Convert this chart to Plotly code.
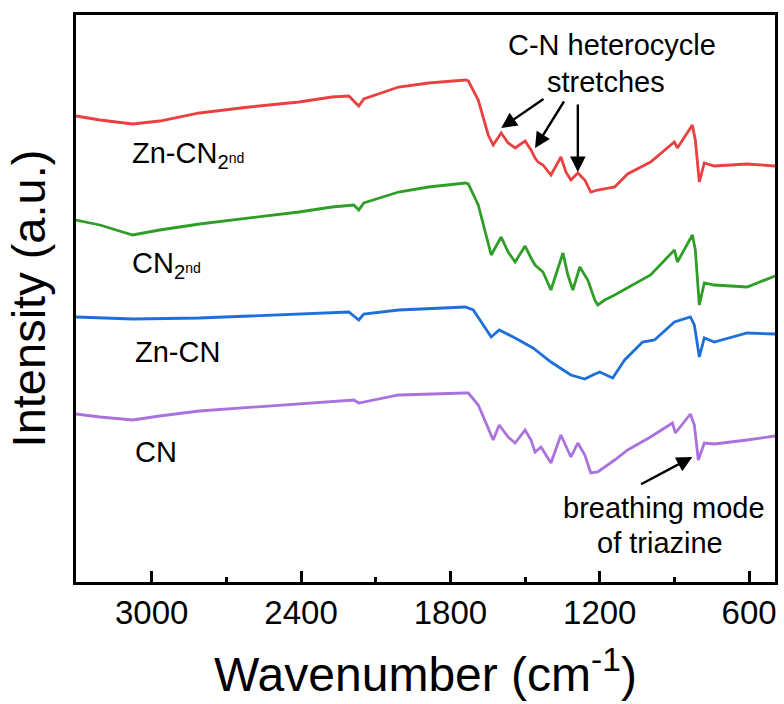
import plotly.graph_objects as go

# Wavenumbers (cm-1) and intensities (arbitrary units, offset stacked)
zn_cn2_x = [3304, 3208, 3076, 2968, 2808, 2608, 2408, 2276, 2208, 2180, 2168, 2148, 2008, 1888, 1740, 1728,
            1688, 1648, 1628, 1596, 1568, 1540, 1500, 1476, 1460, 1448, 1428, 1396, 1356, 1336, 1316, 1288,
            1260, 1236, 1208, 1140, 1088, 996, 900, 888, 828, 816, 800, 780, 740, 608, 496]
zn_cn2_y = [466, 462, 458, 461, 469, 475, 480, 485, 486, 479, 476, 483, 495, 499, 502, 501,
            482, 447, 437, 449, 439, 434, 441, 432, 424, 420, 417, 407, 425, 410, 402, 409,
            402, 390, 392, 395, 408, 420, 440, 434, 457, 442, 400, 419, 416, 418, 416]

cn2_x = [3304, 3208, 3076, 2968, 2808, 2608, 2408, 2276, 2188, 2168, 2148, 2008, 1888, 1740, 1728,
         1688, 1636, 1596, 1568, 1540, 1500, 1476, 1460, 1428, 1396, 1348, 1328, 1308, 1280, 1248,
         1220, 1208, 1180, 1140, 1088, 996, 900, 888, 828, 816, 800, 780, 740, 608, 496]
cn2_y = [362, 357, 347, 352, 358, 364, 370, 375, 377, 372, 379, 390, 395, 399, 398,
         377, 327, 345, 330, 320, 336, 324, 317, 310, 292, 329, 307, 292, 315, 302,
         282, 277, 282, 287, 294, 307, 332, 320, 347, 332, 277, 299, 297, 295, 306]

zn_cn_x = [3304, 3076, 2808, 2408, 2208, 2168, 2148, 2008, 1740, 1708, 1668, 1636, 1604, 1540, 1468,
           1396, 1316, 1260, 1228, 1200, 1148, 1100, 1028, 980, 900, 836, 820, 800, 780, 740, 608, 496]
zn_cn_y = [265, 263, 264, 268, 270, 262, 268, 272, 275, 272, 257, 245, 252, 244, 234,
           220, 207, 203, 207, 210, 204, 222, 240, 242, 260, 265, 257, 225, 244, 240, 249, 248]

cn_x = [3304, 3208, 3076, 2968, 2808, 2408, 2276, 2188, 2168, 2008, 1740, 1728, 1688, 1628, 1604,
        1568, 1540, 1500, 1476, 1460, 1436, 1396, 1356, 1316, 1288, 1260, 1236, 1208, 1140, 1088,
        996, 908, 896, 836, 820, 804, 780, 740, 608, 496]
cn_y = [168, 165, 162, 166, 171, 178, 181, 182, 179, 187, 189, 189, 177, 142, 157,
        145, 139, 152, 142, 130, 135, 119, 147, 125, 139, 127, 109, 110, 122, 132,
        145, 159, 149, 168, 157, 122, 139, 138, 142, 146]

series = [
    ("Zn-CN<sub>2nd</sub>", zn_cn2_x, zn_cn2_y, "#EA4040"),
    ("CN<sub>2nd</sub>", cn2_x, cn2_y, "#2F9E26"),
    ("Zn-CN", zn_cn_x, zn_cn_y, "#1D6FD9"),
    ("CN", cn_x, cn_y, "#A972DE"),
]

tick_vals = [3000, 2400, 1800, 1200, 600]
tick_text = ["3000", "2400", "1800", "1200", "600"]

FONT = "Liberation Sans, Arial, sans-serif"

fig = go.Figure()
for name, xs, ys, col in series:
    fig.add_trace(go.Scatter(x=xs, y=ys, mode="lines", name=name,
                             line=dict(color=col, width=2.8), showlegend=False))

labels = [
    ("Zn-CN<sub>2</sub><span style='font-size:14px'>nd</span>", 3088, 427),
    ("CN<sub>2</sub><span style='font-size:14px'>nd</span>", 3088, 317),
    ("Zn-CN", 3076, 230),
    ("CN", 3076, 130),
]
for txt, x, y in labels:
    fig.add_annotation(x=x, y=y, text=txt, showarrow=False, xanchor="left", yanchor="middle",
                       font=dict(family=FONT, size=29, color="black"))

for txt, x, y in [("C-N heterocycle", 1152, 537), ("stretches", 1176, 500),
                  ("breathing mode", 940, 74), ("of triazine", 960, 39)]:
    fig.add_annotation(x=x, y=y, text=txt, showarrow=False, xanchor="center", yanchor="middle",
                       font=dict(family=FONT, size=29, color="black"))

arrows = [((1596, 454), (1420, 484)), ((1460, 434), (1340, 482)),
          ((1288, 410), (1288, 479)), ((828, 125), (1040, 97))]
for (hx, hy), (tx, ty) in arrows:
    fig.add_annotation(x=hx, y=hy, ax=tx, ay=ty, axref="x", ayref="y", xref="x", yref="y",
                       text="", showarrow=True, arrowhead=2, arrowsize=1.3, arrowwidth=2.4,
                       arrowcolor="black")

fig.update_layout(
    width=784, height=704,
    margin=dict(l=76, r=6, t=15, b=122),
    paper_bgcolor="white", plot_bgcolor="white",
    font=dict(family=FONT, color="black"),
)
fig.update_xaxes(
    range=[3304, 496], tickvals=tick_vals, ticktext=tick_text,
    ticks="inside", ticklen=11, tickwidth=2.5, tickcolor="black",
    minor=dict(ticks="inside", ticklen=5, tickwidth=2.5, tickcolor="black", dtick=300, tick0=0),
    showline=True, linewidth=2.5, linecolor="black", mirror=True,
    showgrid=False, zeroline=False,
    tickfont=dict(family=FONT, size=33, color="black"),
    title=dict(text="Wavenumber (cm<sup>-1</sup>)", font=dict(family=FONT, size=48, color="black"), standoff=28),
)
fig.update_yaxes(
    range=[0, 567], showticklabels=False, ticks="",
    showline=True, linewidth=2.5, linecolor="black", mirror=True,
    showgrid=False, zeroline=False,
    title=dict(text="Intensity (a.u.)", font=dict(family=FONT, size=47, color="black"), standoff=13),
)

fig.write_html("out.html")
